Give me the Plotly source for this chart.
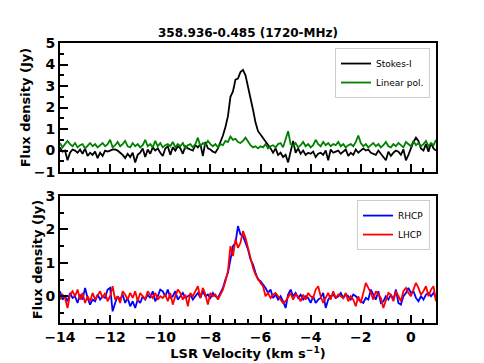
import plotly.graph_objects as go

# LSR velocity channels (km/s), 0.1 km/s spacing
velocity = [
    -14.0, -13.9, -13.8, -13.7, -13.6, -13.5, -13.4, -13.3, -13.2, -13.1,
    -13.0, -12.9, -12.8, -12.7, -12.6, -12.5, -12.4, -12.3, -12.2, -12.1,
    -12.0, -11.9, -11.8, -11.7, -11.6, -11.5, -11.4, -11.3, -11.2, -11.1,
    -11.0, -10.9, -10.8, -10.7, -10.6, -10.5, -10.4, -10.3, -10.2, -10.1,
    -10.0, -9.9, -9.8, -9.7, -9.6, -9.5, -9.4, -9.3, -9.2, -9.1,
    -9.0, -8.9, -8.8, -8.7, -8.6, -8.5, -8.4, -8.3, -8.2, -8.1,
    -8.0, -7.9, -7.8, -7.7, -7.6, -7.5, -7.4, -7.3, -7.2, -7.1,
    -7.0, -6.9, -6.8, -6.7, -6.6, -6.5, -6.4, -6.3, -6.2, -6.1,
    -6.0, -5.9, -5.8, -5.7, -5.6, -5.5, -5.4, -5.3, -5.2, -5.1,
    -5.0, -4.9, -4.8, -4.7, -4.6, -4.5, -4.4, -4.3, -4.2, -4.1,
    -4.0, -3.9, -3.8, -3.7, -3.6, -3.5, -3.4, -3.3, -3.2, -3.1,
    -3.0, -2.9, -2.8, -2.7, -2.6, -2.5, -2.4, -2.3, -2.2, -2.1,
    -2.0, -1.9, -1.8, -1.7, -1.6, -1.5, -1.4, -1.3, -1.2, -1.1,
    -1.0, -0.9, -0.8, -0.7, -0.6, -0.5, -0.4, -0.3, -0.2, -0.1,
    0.0, 0.1, 0.2, 0.3, 0.4, 0.5, 0.6, 0.7, 0.8, 0.9,
    1.0,
]

stokes_i = [
    0.15, -0.05, 0.0, -0.45, -0.1, 0.05, 0.0, -0.1, 0.05, -0.15,
    0.1, -0.25, -0.1, -0.2, -0.05, -0.35, -0.1, -0.25, 0.0, -0.05,
    0.0, 0.05, 0.05, 0.0, -0.1, -0.2, -0.35, -0.15, -0.3, -0.1,
    -0.55, -0.2, -0.1, 0.1, -0.3, 0.05, -0.15, 0.15, 0.0, 0.1,
    -0.1, -0.25, 0.1, 0.2, -0.2, 0.15, 0.0, 0.2, 0.1, -0.15,
    0.2, 0.1, 0.05, 0.0, 0.25, 0.15, 0.3, -0.25, 0.4, 0.1,
    0.05, -0.05, -0.1, 0.1, 0.4, 0.7, 1.1, 1.6, 2.5, 2.75,
    3.3, 3.35, 3.65, 3.75, 3.5, 3.0, 2.5, 1.9, 1.3, 0.9,
    0.75, 0.6, 0.45, 0.3, 0.1, -0.1, 0.1, -0.2, -0.1, -0.3,
    -0.2, -0.55, 0.0, 0.45, -0.1, 0.1, -0.15, 0.0, -0.2, -0.1,
    -0.15, -0.05, -0.3, -0.15, -0.1, -0.2, 0.0, -0.45, 0.05, -0.1,
    -0.05, 0.0, -0.15, -0.05, 0.05, -0.25, -0.1, -0.2, 0.05, -0.1,
    0.0, 0.1, 0.0, 0.05, -0.1, -0.15, -0.2, 0.0, -0.15, -0.3,
    -0.45, -0.05, -0.25, -0.1, 0.0, -0.05, -0.2, 0.05, -0.45, -0.2,
    0.1, 0.4, 0.6, 0.45, 0.1, 0.0, 0.3, -0.05, 0.35, 0.1,
    0.0,
]

linear_pol = [
    0.35, 0.15, 0.3, 0.45, 0.3, 0.2, 0.35, 0.15, 0.25, 0.3,
    0.1, 0.25, 0.35, 0.2, 0.3, 0.15, 0.25, 0.35, 0.2, 0.3,
    0.5, 0.15, 0.25, 0.4, 0.2, 0.3, 0.45, 0.2, 0.15, 0.35,
    0.2, 0.3, 0.15, 0.25, 0.5, 0.2, 0.3, 0.15, 0.45, 0.2,
    0.35, 0.15, 0.25, 0.3, 0.2, 0.4, 0.15, 0.3, 0.2, 0.35,
    0.1, 0.25, 0.3, 0.15, 0.3, 0.6, 0.2, 0.35, 0.25, 0.45,
    0.3, 0.2, 0.3, 0.15, 0.3, 0.25, 0.45, 0.4, 0.65, 0.5,
    0.55, 0.4, 0.35, 0.45, 0.6, 0.4, 0.25, 0.15, 0.2, 0.1,
    0.2, 0.15, 0.3, 0.1, 0.2, 0.25, 0.15, 0.3, 0.35, 0.15,
    0.5, 0.9, 0.3, 0.2, 0.35, 0.15, 0.25, 0.4, 0.2, 0.3,
    0.15, 0.25, 0.5, 0.3, 0.2, 0.4, 0.25, 0.35, 0.2, 0.3,
    0.25, 0.4, 0.2, 0.3, 0.15, 0.25, 0.3, 0.2, 0.4, 0.7,
    0.35, 0.2, 0.3, 0.15, 0.25, 0.35, 0.2, 0.3, 0.15, 0.25,
    0.4, 0.2, 0.15, 0.3, 0.2, 0.35, 0.25, 0.15, 0.4, 0.3,
    0.2, 0.45, 0.25, 0.35, 0.2, 0.3, 0.45, 0.2, 0.35, 0.25,
    0.5,
]

rhcp = [
    0.15, -0.1, 0.0, -0.15, 0.1, -0.05, 0.0, -0.2, 0.05, -0.1,
    0.25, -0.05, -0.25, -0.1, -0.15, 0.05, -0.1, 0.0, -0.05, 0.2,
    0.25, -0.45, -0.2, 0.0, -0.1, 0.05, -0.2, -0.05, -0.3, -0.15,
    -0.35, -0.1, -0.2, 0.0, -0.1, 0.05, -0.05, 0.15, -0.15, 0.0,
    0.2, 0.15, 0.0, 0.2, -0.05, 0.0, 0.15, -0.1, 0.0, 0.1,
    -0.05, 0.0, 0.05, -0.1, 0.0, 0.1, -0.05, 0.15, 0.0, 0.05,
    -0.05, 0.1, 0.0, -0.05, 0.1, 0.25, 0.5, 0.7, 1.1, 1.5,
    1.6, 2.1, 1.85, 1.8, 1.6, 1.4, 1.1, 0.95, 0.7, 0.5,
    0.45, 0.35, 0.25, 0.1, 0.2, -0.05, 0.05, -0.1, 0.0, -0.15,
    -0.35, 0.05, 0.2, 0.0, 0.1, -0.05, 0.05, -0.1, 0.0, -0.05,
    -0.2, 0.0, -0.2, -0.1, -0.05, 0.1, -0.35, -0.1, 0.0, 0.05,
    -0.05, 0.0, 0.1, -0.05, 0.05, 0.0, -0.1, 0.05, 0.0, -0.1,
    -0.15, -0.2, -0.05, -0.1, 0.2, 0.05, -0.1, 0.15, -0.2, -0.15,
    0.0, -0.1, 0.05, -0.1, 0.2, -0.2, -0.25, 0.0, 0.1, 0.25,
    0.1, 0.15, -0.05, -0.15, 0.0, -0.1, 0.05, 0.1, 0.0, 0.1,
    -0.05,
]

lhcp = [
    -0.1, 0.05, -0.05, -0.35, 0.05, 0.15, 0.0, 0.2, -0.1, 0.1,
    -0.2, 0.0, -0.15, 0.1, -0.1, 0.05, 0.15, -0.05, 0.1, -0.15,
    0.0, 0.3, -0.1, 0.0, -0.2, 0.15, 0.05, -0.1, 0.1, -0.05,
    0.15, -0.15, 0.1, 0.0, -0.1, 0.15, 0.05, -0.05, 0.1, -0.1,
    0.0, -0.05, 0.05, -0.15, 0.1, -0.25, 0.0, 0.2, 0.1, -0.1,
    0.05, -0.3, 0.1, 0.0, 0.15, 0.3, -0.05, 0.25, 0.05, -0.25,
    0.1, 0.0, 0.05, -0.1, 0.05, 0.2, 0.45, 0.75, 1.5, 1.2,
    1.7, 1.45, 1.6, 1.95, 1.75, 1.45, 1.15, 0.85, 0.65, 0.5,
    0.4, 0.3, 0.0, 0.1, -0.05, 0.05, 0.1, 0.0, -0.1, -0.2,
    -0.15, 0.0, 0.1, -0.1, 0.05, 0.0, -0.15, 0.05, -0.1, 0.1,
    0.0, -0.05, 0.2, 0.3, 0.0, -0.2, -0.05, 0.1, -0.1, 0.15,
    -0.05, 0.05, 0.0, -0.05, 0.1, -0.15, 0.0, -0.1, -0.3, 0.0,
    -0.2, 0.1, 0.4, 0.25, 0.1, -0.1, 0.15, 0.05, -0.05, -0.35,
    -0.1, 0.1, 0.05, -0.15, 0.15, 0.0, -0.15, 0.15, 0.25, 0.1,
    0.0, 0.2, 0.4, 0.25, 0.05, 0.15, 0.3, 0.0, 0.2, 0.3,
    -0.15,
]

font_family = "DejaVu Sans"

fig = go.Figure()
fig.add_trace(go.Scatter(x=velocity, y=stokes_i, mode="lines", name="Stokes-I",
                         line=dict(color="black", width=1.8), xaxis="x", yaxis="y", legend="legend"))
fig.add_trace(go.Scatter(x=velocity, y=linear_pol, mode="lines", name="Linear pol.",
                         line=dict(color="#008000", width=1.8), xaxis="x", yaxis="y", legend="legend"))
fig.add_trace(go.Scatter(x=velocity, y=rhcp, mode="lines", name="RHCP",
                         line=dict(color="#0000ff", width=1.8), xaxis="x2", yaxis="y2", legend="legend2"))
fig.add_trace(go.Scatter(x=velocity, y=lhcp, mode="lines", name="LHCP",
                         line=dict(color="#ff0000", width=1.8), xaxis="x2", yaxis="y2", legend="legend2"))

axis_common = dict(
    showline=True, linecolor="black", linewidth=2, mirror=True,
    ticks="inside", ticklen=8, tickwidth=1.5, tickcolor="black",
    showgrid=False, zeroline=False, automargin=False,
    tickfont=dict(family=font_family, size=14, color="black", weight="bold"),
)
minor_ticks = dict(dtick=0.5, ticks="inside", ticklen=4, tickcolor="black")
title_font = dict(family=font_family, size=13, color="black", weight="bold")

fig.update_layout(
    width=484, height=363,
    margin=dict(l=60, r=48, t=43, b=40),
    paper_bgcolor="white", plot_bgcolor="white",
    title=dict(text="358.936-0.485 (1720-MHz)", x=0.5, xref="paper",
               y=1 - 33 / 363, yref="container", yanchor="middle",
               font=dict(family=font_family, size=12, color="black", weight="bold")),
    xaxis=dict(axis_common, domain=[0, 1], range=[-14, 1], anchor="y",
               matches="x2", showticklabels=False, dtick=2, minor=minor_ticks),
    yaxis=dict(axis_common, domain=[0.539, 1], range=[-1, 5], anchor="x", dtick=1,
               minor=minor_ticks,
               title=dict(text="Flux density (Jy)", standoff=0, font=title_font)),
    xaxis2=dict(axis_common, domain=[0, 1], range=[-14, 1], anchor="y2", dtick=2,
                minor=minor_ticks,
                title=dict(text="LSR Velocity (km s<sup>\u22121</sup>)", standoff=2, font=title_font)),
    yaxis2=dict(axis_common, domain=[0, 0.4536], range=[-0.8, 3], anchor="x2", dtick=1,
                minor=minor_ticks,
                title=dict(text="Flux density (Jy)", standoff=0, font=title_font)),
    legend=dict(x=0.984, y=0.982, xanchor="right", yanchor="top",
                bgcolor="rgba(255,255,255,0.8)", bordercolor="#cccccc", borderwidth=1,
                font=dict(family=font_family, size=9, color="black"), itemwidth=30,
                tracegroupgap=0),
    legend2=dict(x=0.984, y=0.439, xanchor="right", yanchor="top",
                 bgcolor="rgba(255,255,255,0.8)", bordercolor="#cccccc", borderwidth=1,
                 font=dict(family=font_family, size=9, color="black"), itemwidth=30,
                 tracegroupgap=0),
    showlegend=True,
)

# drop the browser's default body margin so the figure sits at the page origin
fig.write_html("out.html", config={"displayModeBar": False},
               post_script="document.body.style.margin = '0';")
